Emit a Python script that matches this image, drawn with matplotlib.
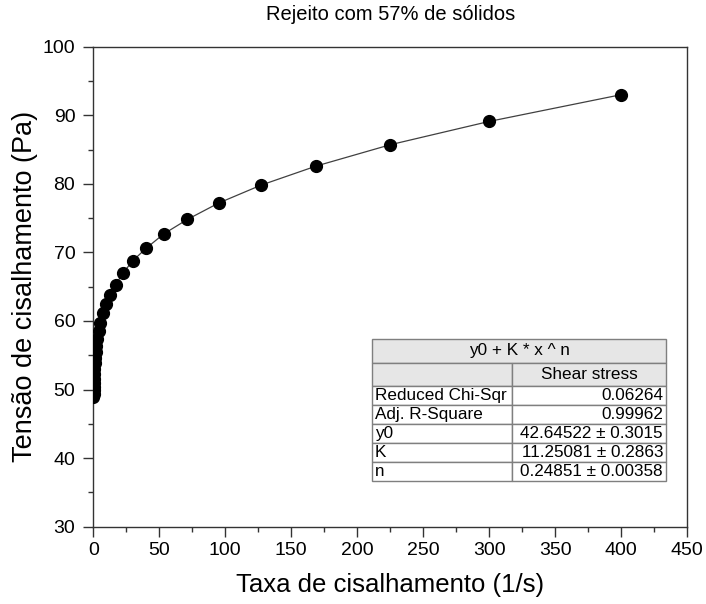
import numpy as np
import matplotlib
matplotlib.use("Agg")
import matplotlib.pyplot as plt
from matplotlib.patches import Rectangle
from matplotlib.ticker import MultipleLocator

plt.rcParams['font.family'] = ['Liberation Sans', 'DejaVu Sans']

# shear rate (1/s) and shear stress (Pa)
taxa = [0.095, 0.127, 0.169, 0.225, 0.30, 0.40, 0.53, 0.71, 0.95, 1.27,
        1.69, 2.25, 3.0, 4.0, 5.34, 7.12, 9.5, 12.7, 16.9, 22.5,
        30.0, 40.0, 53.4, 71.2, 95.0, 127.0, 169.0, 225.0, 300.0, 400.0]
tensao = [48.9, 49.4, 49.9, 50.4, 51.0, 51.6, 52.3, 53.0, 53.8, 54.6,
          55.5, 56.4, 57.4, 58.5, 59.7, 61.1, 62.5, 63.8, 65.3, 67.0,
          68.8, 70.6, 72.7, 74.8, 77.2, 79.8, 82.6, 85.7, 89.1, 93.0]

# fit results table
tab_titulo = "y0 + K * x ^ n"
tab_coluna = "Shear stress"
tab_nomes = ["Reduced Chi-Sqr", "Adj. R-Square", "y0", "K", "n"]
tab_valores = ["0.06264", "0.99962", "42.64522 \u00b1 0.3015",
               "11.25081 \u00b1 0.2863", "0.24851 \u00b1 0.00358"]

fig = plt.figure(figsize=(7.06, 6.04), dpi=100)
ax = fig.add_axes([0.1322, 0.128, 0.8410, 0.7947])

ax.plot(taxa, tensao, color='#404040', lw=0.9, zorder=2)
ax.plot(taxa, tensao, 'o', color='black', markersize=8.5, zorder=3)

ax.set_xlim(0, 450)
ax.set_ylim(30, 100)
ax.xaxis.set_major_locator(MultipleLocator(50))
ax.xaxis.set_minor_locator(MultipleLocator(25))
ax.yaxis.set_major_locator(MultipleLocator(10))
ax.yaxis.set_minor_locator(MultipleLocator(5))
ax.tick_params(which='both', direction='out', top=False, right=False,
               colors='#333333', labelcolor='black', labelsize=14)
ax.tick_params(which='major', length=7, width=1, pad=4)
ax.tick_params(axis='y', which='major', pad=6)
ax.tick_params(which='minor', length=3.5, width=1)
for s in ax.spines.values():
    s.set_color('#333333')
    s.set_linewidth(1)

ax.set_xlabel("Taxa de cisalhamento (1/s)", fontsize=18.5, labelpad=10)
ax.set_ylabel("Tensão de cisalhamento (Pa)", fontsize=19.5, labelpad=3)
ax.set_title("Rejeito com 57% de sólidos", fontsize=14.5, pad=19)

# table drawn in pixel coordinates of the figure
H = 604
x0, xm, x1 = 372, 512, 666
rows = [339, 363, 386, 405, 424, 443, 462, 481, 500]
fill = '#e6e6e6'
edge = '#7f7f7f'
tf = fig.transFigure


def fx(px):
    return px / 706


def fy(py):
    return 1 - py / H


def cell(xa, xb, ya, yb, color):
    fig.add_artist(Rectangle((fx(xa), fy(yb)), fx(xb) - fx(xa), fy(ya) - fy(yb),
                             transform=tf, facecolor=color, edgecolor=edge, lw=1))


fs = 12.3
cell(x0, x1, rows[0], rows[1], fill)
fig.text(fx((x0 + x1) / 2), fy((rows[0] + rows[1]) / 2), tab_titulo,
         ha='center', va='center', fontsize=fs)
cell(x0, xm, rows[1], rows[2], fill)
cell(xm, x1, rows[1], rows[2], fill)
fig.text(fx((xm + x1) / 2), fy((rows[1] + rows[2]) / 2), tab_coluna,
         ha='center', va='center', fontsize=fs)
for i, (nome, val) in enumerate(zip(tab_nomes, tab_valores)):
    ya, yb = rows[i + 2], rows[i + 3]
    cell(x0, xm, ya, yb, 'white')
    cell(xm, x1, ya, yb, 'white')
    yc = fy((ya + yb) / 2)
    fig.text(fx(x0 + 3), yc, nome, ha='left', va='center', fontsize=fs)
    fig.text(fx(x1 - 3), yc, val, ha='right', va='center', fontsize=fs)

fig.savefig("out.png", dpi=100)
